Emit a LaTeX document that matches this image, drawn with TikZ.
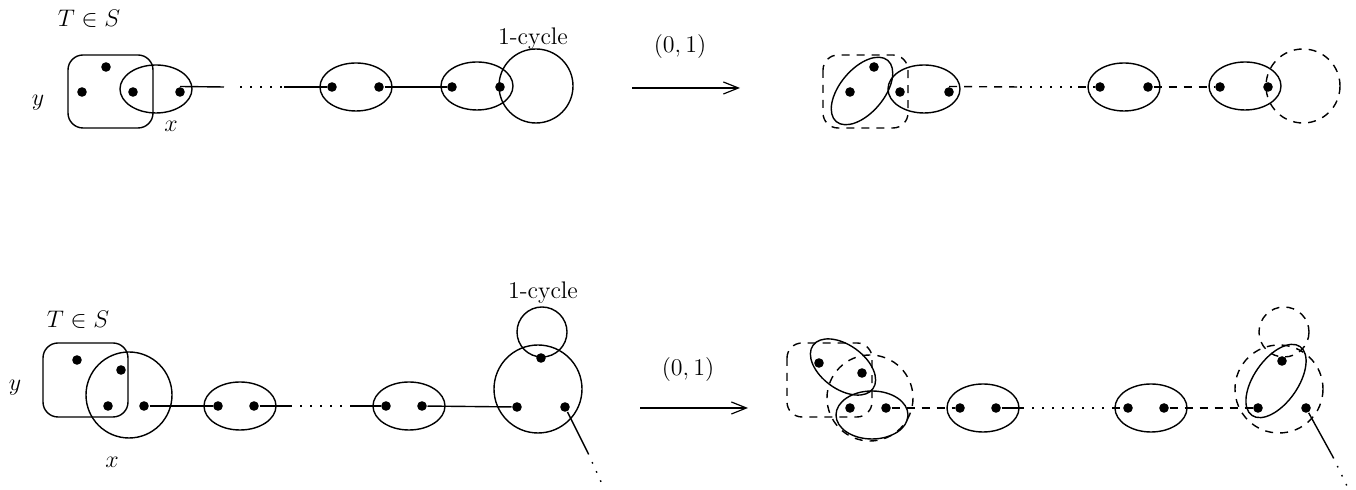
\documentclass[tikz,border=0pt]{standalone}
\usepackage{amsmath,amssymb}
\usetikzlibrary{arrows.meta}

\begin{document}
\begin{tikzpicture}[x=0.5pt,y=-0.5pt,font=\large,line width=0.7pt,
  dot/.style={circle,fill,inner sep=0pt,minimum size=4.8pt},
  dsh/.style={dash pattern=on 4pt off 3.5pt},
  dts/.style={dash pattern=on 0.8pt off 4.2pt},
  maps/.style={-{Straight Barb[length=7.5pt,width=6pt]},line width=0.6pt}]
  \useasboundingbox (0,0) rectangle (1356,490);

  %% upper row, before
  \node (At) at (89,19) {$T\in S$};
  \node (Ay) at (38,103) {$y$};
  \node (Ax) at (171,126) {$x$};
  \node (Acyc) at (533,39) {1-cycle};
  \draw[rounded corners=7.5pt] (68,55) rectangle (153,128);
  \draw (156,89) ellipse (36 and 24);
  \draw (356,87) ellipse (36 and 24);
  \draw (477,86) ellipse (36 and 24);
  \draw (536,86) circle (37);
  \node[dot] (Ay1) at (82,92) {};
  \node[dot] (Ay2) at (106,67) {};
  \node[dot] (Ax1) at (133,92) {};
  \node[dot] (Ax2) at (180,92) {};
  \node[dot] (Ad1) at (332,87) {};
  \node[dot] (Ad2) at (379,87) {};
  \node[dot] (Ae1) at (452,87) {};
  \node[dot] (Ae2) at (500,87) {};
  \coordinate (Ac1) at (224,87);
  \coordinate (Ac2) at (240,87);
  \coordinate (Ac3) at (284,87);
  \draw (Ax2.north) -- (Ac1);
  \draw[dts] (Ac2) -- (Ac3);
  \draw (Ac3) -- (Ad1);
  \draw (Ad2) -- (Ae1);

  %% upper arrow
  \node (Am) at (680,47) {$(0,1)$};
  \coordinate (Aa1) at (632,88);
  \coordinate (Aa2) at (740,88);
  \draw[maps] (Aa1) -- (Aa2);

  %% upper row, after
  \draw[dsh,rounded corners=7.5pt] (823,55) rectangle (908,128);
  \draw[rotate around={50:(862,91)}] (862,91) ellipse (40 and 22);
  \draw (924,89) ellipse (36 and 24);
  \draw (1124,87) ellipse (36 and 24);
  \draw (1245,86) ellipse (36 and 24);
  \draw[dsh] (1303,86) circle (37);
  \node[dot] (By1) at (850,92) {};
  \node[dot] (By2) at (874,67) {};
  \node[dot] (Bx1) at (900,92) {};
  \node[dot] (Bx2) at (949,92) {};
  \node[dot] (Bd1) at (1100,87) {};
  \node[dot] (Bd2) at (1148,87) {};
  \node[dot] (Be1) at (1220,87) {};
  \node[dot] (Be2) at (1268,87) {};
  \coordinate (Bc1) at (1020,87);
  \coordinate (Bc2) at (1078,87);
  \draw[dsh] (Bx2.north) -- (Bc1);
  \draw[dts] (Bc1) -- (Bc2);
  \draw[dsh] (Bc2) -- (Bd1);
  \draw[dsh] (Bd2) -- (Be1);

  %% lower row, before
  \node (Ct) at (78,320) {$T\in S$};
  \node (Cy) at (15,388) {$y$};
  \node (Cx) at (112,462) {$x$};
  \node (Ccyc) at (543,293) {1-cycle};
  \draw[rounded corners=7.5pt] (43,343) rectangle (128,417);
  \draw (129,395) circle (43);
  \draw (240,406) ellipse (36 and 24);
  \draw (409,406) ellipse (36 and 24);
  \draw (538,389) circle (44);
  \draw (542,332) circle (25);
  \node[dot] (Cy1) at (77,360) {};
  \node[dot] (Cy2) at (121,370) {};
  \node[dot] (Cx1) at (108,406) {};
  \node[dot] (Cx2) at (144,406) {};
  \node[dot] (Cd1) at (218,406) {};
  \node[dot] (Cd2) at (254,406) {};
  \node[dot] (Ce1) at (386,406) {};
  \node[dot] (Ce2) at (422,406) {};
  \node[dot] (Cs0) at (541,358) {};
  \node[dot] (Cs1) at (517,407) {};
  \node[dot] (Cs2) at (565,407) {};
  \coordinate (Cc1) at (290,406);
  \coordinate (Cc2) at (352,406);
  \coordinate (Cc3) at (588,453);
  \coordinate (Cc4) at (602,484);
  \draw (Cx2) -- (Cd1);
  \draw (Cd2) -- (Cc1);
  \draw[dts] (Cc1) -- (Cc2);
  \draw (Cc2) -- (Ce1);
  \draw (Ce2) -- (Cs1);
  \draw (Cs2) -- (Cc3);
  \draw[dts] (Cc3) -- (Cc4);

  %% lower arrow
  \node (Cm) at (688,370) {$(0,1)$};
  \coordinate (Ca1) at (640,408);
  \coordinate (Ca2) at (748,408);
  \draw[maps] (Ca1) -- (Ca2);

  %% lower row, after
  \draw[dsh,rounded corners=7.5pt] (787,343) rectangle (872,417);
  \draw[rotate around={-36:(843,367)}] (843,367) ellipse (37 and 22);
  \draw[dsh] (870,398) circle (43);
  \draw (872,415) ellipse (36 and 24);
  \draw (983,408) ellipse (36 and 24);
  \draw (1151,408) ellipse (36 and 24);
  \draw[dsh] (1279,389) circle (44);
  \draw[dsh] (1284,332) circle (25);
  \draw[rotate around={55:(1276,381)}] (1276,381) ellipse (42 and 22);
  \node[dot] (Dy1) at (819,363) {};
  \node[dot] (Dy2) at (862,373) {};
  \node[dot] (Dx1) at (850,408) {};
  \node[dot] (Dx2) at (886,408) {};
  \node[dot] (Dd1) at (960,408) {};
  \node[dot] (Dd2) at (996,408) {};
  \node[dot] (De1) at (1128,408) {};
  \node[dot] (De2) at (1164,408) {};
  \node[dot] (Ds0) at (1282,361) {};
  \node[dot] (Ds1) at (1258,408) {};
  \node[dot] (Ds2) at (1306,408) {};
  \coordinate (Dc1) at (1022,408);
  \coordinate (Dc2) at (1112,408);
  \coordinate (Dc3) at (1333,457);
  \coordinate (Dc4) at (1347,486);
  \draw[dsh] (Dx2) -- (Dd1);
  \draw (Dd2) -- (Dc1);
  \draw[dts] (Dc1) -- (Dc2);
  \draw[dsh] (Dc2) -- (De1);
  \draw[dsh] (De2) -- (Ds1);
  \draw (Ds2) -- (Dc3);
  \draw[dts] (Dc3) -- (Dc4);
\end{tikzpicture}
\end{document}
